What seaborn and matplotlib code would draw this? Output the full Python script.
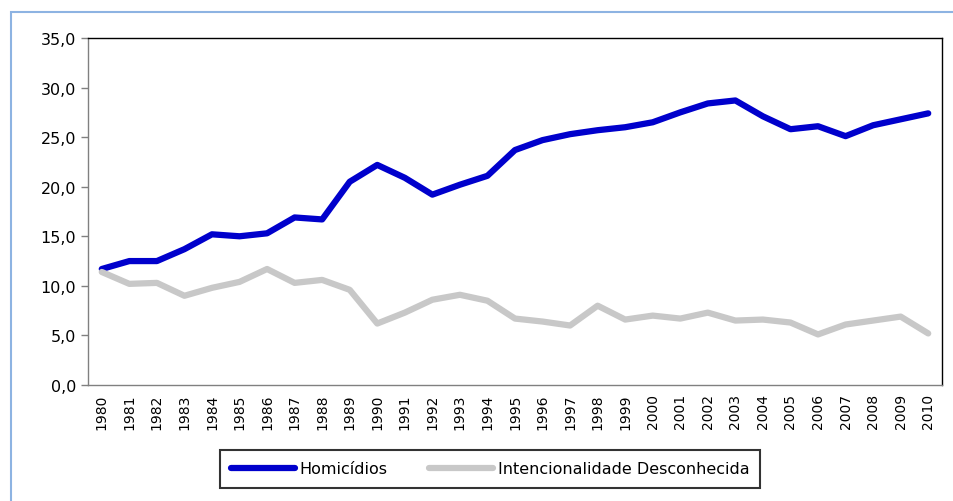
import matplotlib
matplotlib.use("Agg")
import matplotlib.pyplot as plt
import seaborn as sns
import pandas as pd
import numpy as np
from matplotlib.patches import Rectangle
from matplotlib.lines import Line2D

years = [str(y) for y in range(1980, 2011)]
homicidios = [11.7, 12.5, 12.5, 13.7, 15.2, 15.0, 15.3, 16.9, 16.7, 20.5, 22.2,
              20.9, 19.2, 20.2, 21.1, 23.7, 24.7, 25.3, 25.7, 26.0, 26.5, 27.5,
              28.4, 28.7, 27.1, 25.8, 26.1, 25.1, 26.2, 26.8, 27.4]
desconhecida = [11.4, 10.2, 10.3, 9.0, 9.8, 10.4, 11.7, 10.3, 10.6, 9.6, 6.2,
                7.3, 8.6, 9.1, 8.5, 6.7, 6.4, 6.0, 8.0, 6.6, 7.0, 6.7, 7.3, 6.5,
                6.6, 6.3, 5.1, 6.1, 6.5, 6.9, 5.2]
series_names = ["Homicídios", "Intencionalidade Desconhecida"]
yticks = [0, 5, 10, 15, 20, 25, 30, 35]

df = pd.DataFrame({
    "idx": list(range(len(years))) * 2,
    "valor": homicidios + desconhecida,
    "serie": [series_names[0]] * len(years) + [series_names[1]] * len(years),
})

sns.set_style("white")
plt.rcParams['font.family'] = ['Verdana', 'DejaVu Sans']
plt.rcParams['text.color'] = 'black'
plt.rcParams['xtick.color'] = 'black'
plt.rcParams['ytick.color'] = 'black'
fig = plt.figure(figsize=(9.54, 5.02), dpi=100)
ax = fig.add_axes([88 / 954, 1 - 386 / 502, (942 - 88) / 954, (386 - 39) / 502])

sns.lineplot(data=df, x="idx", y="valor", hue="serie",
             palette=["#0000CC", "#C8C8C8"], linewidth=4.5, ax=ax, legend=False)

ax.set_xlim(-0.5, len(years) - 0.5)
ax.set_ylim(0, 35)
ax.set_yticks(yticks)
ax.set_yticklabels([f"{v:.1f}".replace(".", ",") for v in yticks], fontsize=11.5)
ax.set_xticks(range(len(years)))
ax.set_xticklabels(years, rotation=90, fontsize=10)
ax.set_xticks(np.arange(-0.5, len(years), 1), minor=True)
ax.tick_params(axis="x", which="major", length=0, pad=6, labelcolor="black")
ax.tick_params(axis="x", which="minor", length=5, color="#808080", width=1)
ax.tick_params(axis="y", length=5, color="#808080", width=1, direction="out", left=True,
               labelcolor="black")
ax.set_xlabel("")
ax.set_ylabel("")
for s in ["left", "bottom"]:
    ax.spines[s].set_color("#808080")
    ax.spines[s].set_linewidth(1)
for s in ["top", "right"]:
    ax.spines[s].set_color("black")
    ax.spines[s].set_linewidth(1)

# legend
handles = [Line2D([0], [0], color="#0000CC", lw=4.5), Line2D([0], [0], color="#C8C8C8", lw=4.5)]
leg = fig.legend(handles, series_names, loc="center", bbox_to_anchor=(490 / 954, 1 - 470 / 502),
                 ncol=2, frameon=True, fontsize=11.5, handlelength=4, handletextpad=0.3,
                 columnspacing=2.6, fancybox=False, borderpad=0.7, borderaxespad=0)
leg.get_frame().set_edgecolor("black")
leg.get_frame().set_linewidth(1.5)
for t in leg.get_texts():
    t.set_color("black")

# outer border (top and left visible)
fig.patches.append(Rectangle((11 / 954, -0.1), 1.1, 1.1 - 13 / 502, transform=fig.transFigure,
                             fill=False, edgecolor="#8DB3E2", linewidth=1.5))

fig.savefig("out.png", dpi=100)
